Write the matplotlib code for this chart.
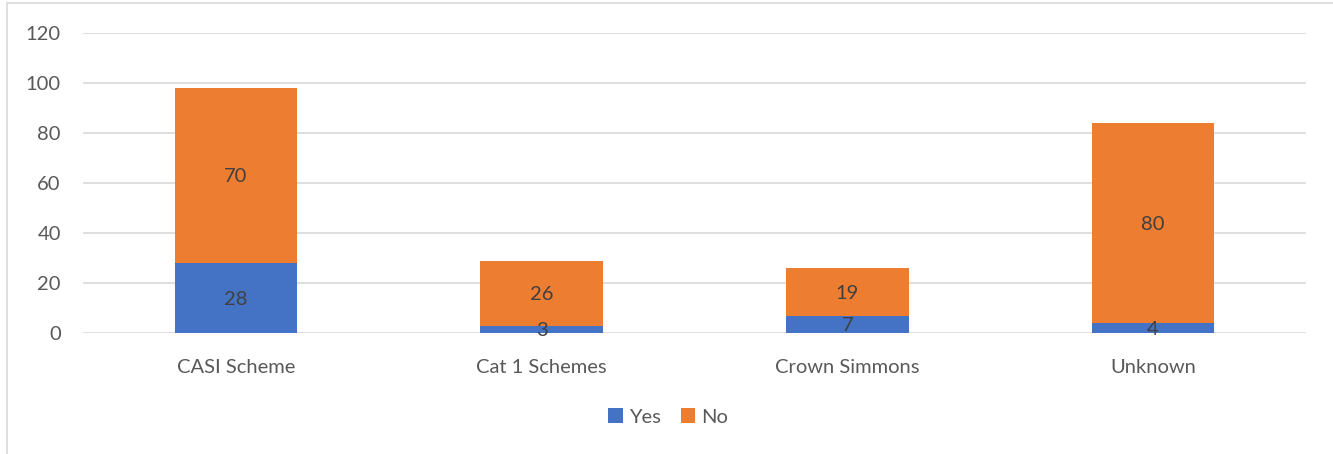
import numpy as np
import matplotlib.pyplot as plt
from matplotlib.patches import Rectangle

categories = ['CASI Scheme', 'Cat 1 Schemes', 'Crown Simmons', 'Unknown']
yes_vals = [28, 3, 7, 4]
no_vals = [70, 26, 19, 80]

blue = '#4472C4'
orange = '#ED7D31'
text_col = '#595959'

plt.rcParams['font.family'] = ['Lato', 'DejaVu Sans']

fig = plt.figure(figsize=(13.33, 4.54), dpi=100)
ax = fig.add_axes([83 / 1333, 1 - 333 / 454, (1306 - 83) / 1333, 300 / 454])

# outer chart frame (only left and top edges visible)
fig.patches.append(Rectangle((7.5 / 1333, -0.2), 1.2, 1 - 3.5 / 454 + 0.2,
                             transform=fig.transFigure, fill=False,
                             edgecolor='#D9D9D9', linewidth=1.2))

x = np.arange(len(categories))
w = 0.4
b1 = ax.bar(x, yes_vals, w, color=blue, label='Yes', zorder=3)
b2 = ax.bar(x, no_vals, w, bottom=yes_vals, color=orange, label='No', zorder=3)

for bars in (b1, b2):
    for r in bars:
        h = r.get_height()
        ax.text(r.get_x() + r.get_width() / 2, r.get_y() + h / 2, f'{h:g}',
                ha='center', va='center_baseline', fontsize=14.5,
                color='#404040', zorder=4)

ax.set_xlim(-0.5, len(categories) - 0.5)
ax.set_ylim(0, 120)
ax.set_yticks(range(0, 121, 20))
ax.set_xticks(x)
ax.set_xticklabels(categories)
ax.yaxis.grid(True, color='#D9D9D9', linewidth=1.2, zorder=0)
for s in ax.spines.values():
    s.set_visible(False)
ax.tick_params(axis='both', length=0, labelsize=14.5, labelcolor=text_col)
ax.tick_params(axis='x', pad=19)
ax.tick_params(axis='y', pad=16)

fig.legend(handles=[b1, b2], labels=['Yes', 'No'], loc='center',
           bbox_to_anchor=(668 / 1333, 1 - 417 / 454), ncol=2, frameon=False,
           fontsize=14.5, labelcolor=text_col, handlelength=0.7, handleheight=0.7,
           handletextpad=0.3, columnspacing=1.0)

fig.savefig('out.png', dpi=100)
